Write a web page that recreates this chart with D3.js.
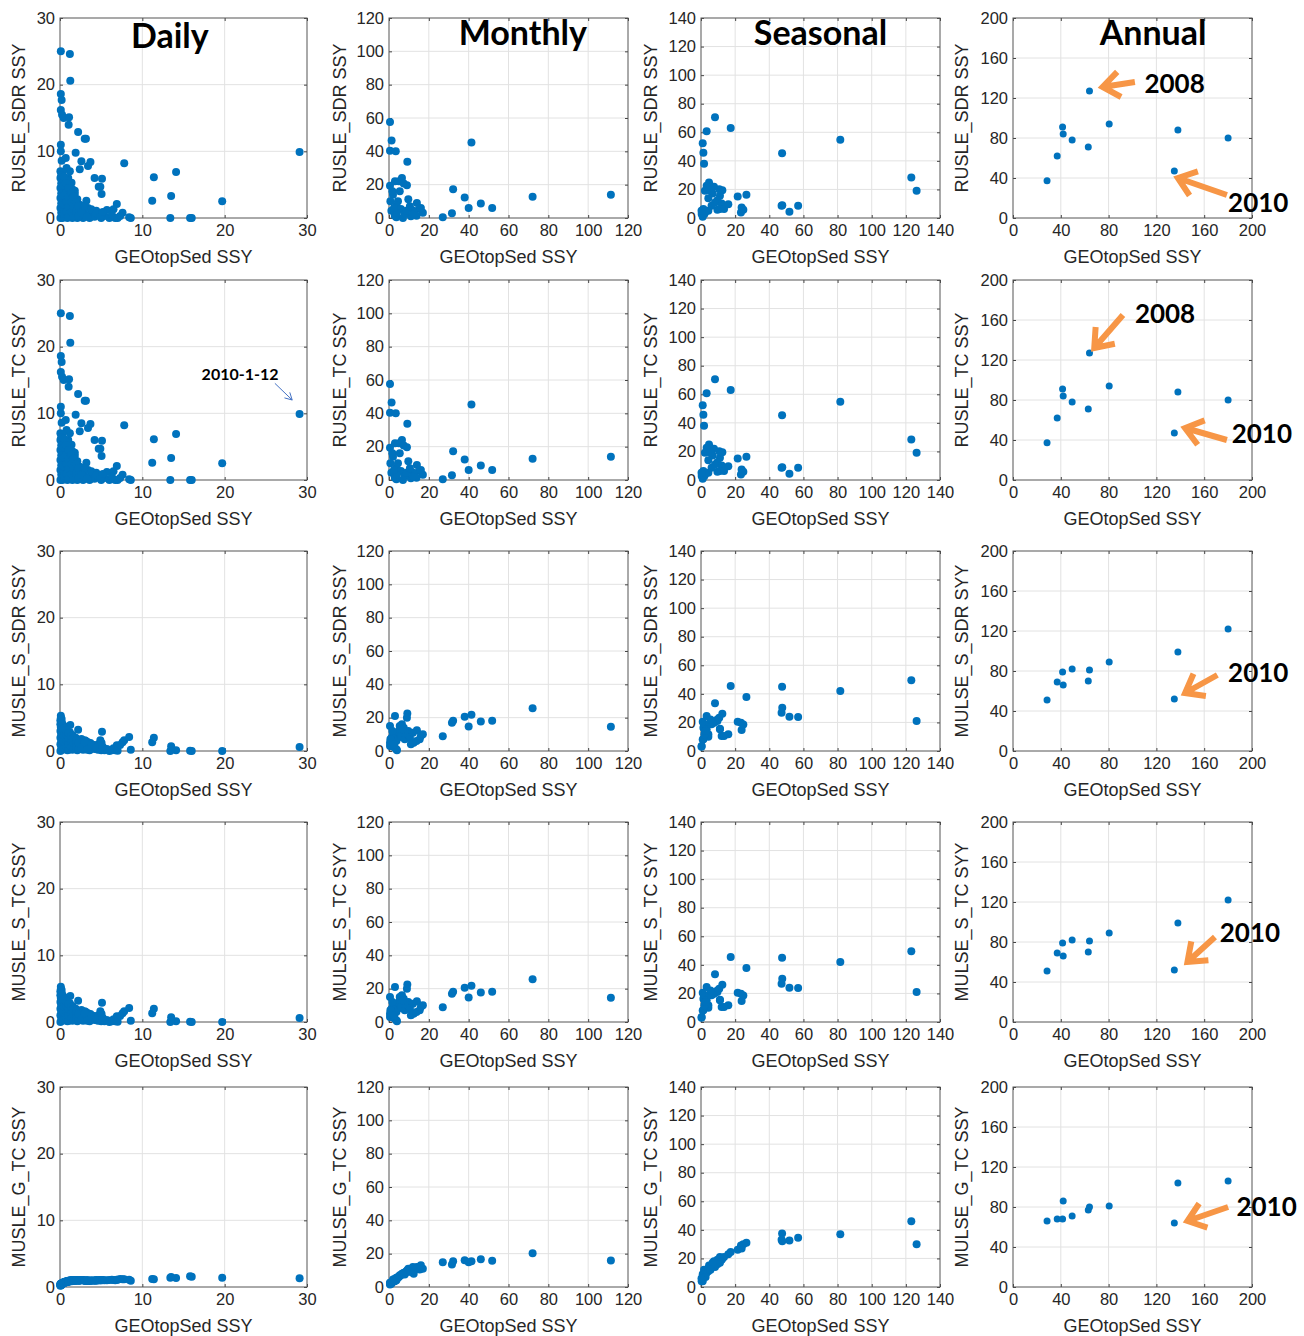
<!DOCTYPE html>
<meta charset="utf-8">
<style>
  body { margin: 0; background: #fff; }
  text { font-family: "Liberation Sans", Arial, sans-serif; }
</style>
<div id="chart"></div>
<script src="https://d3js.org/d3.v7.min.js"></script>
<script>
// ---- data ----
var columns = ["Daily", "Monthly", "Seasonal", "Annual"];
var xLabel = "GEOtopSed SSY";
var yLabels = [
  ["RUSLE_SDR SSY", "RUSLE_SDR SSY", "RUSLE_SDR SSY", "RUSLE_SDR SSY"],
  ["RUSLE_TC SSY", "RUSLE_TC SSY", "RUSLE_TC SSY", "RUSLE_TC SSY"],
  ["MUSLE_S_SDR SSY", "MUSLE_S_SDR SSY", "MUSLE_S_SDR SSY", "MULSE_S_SDR SYY"],
  ["MUSLE_S_TC SSY", "MULSE_S_TC SYY", "MULSE_S_TC SYY", "MULSE_S_TC SYY"],
  ["MUSLE_G_TC SSY", "MULSE_G_TC SSY", "MULSE_G_TC SSY", "MULSE_G_TC SSY"]
];
var xTicks = [[0, 10, 20, 30], [0, 20, 40, 60, 80, 100, 120], [0, 20, 40, 60, 80, 100, 120, 140], [0, 40, 80, 120, 160, 200]];
var yTicks = xTicks;

var dailyX = [0.1,1.2,1.25,0.1,0.2,0.1,0.25,0.45,1.1,1.05,2.2,3.0,3.15,0.1,0.1,1.9,0.2,0.7,2.6,3.7,3.4,2.4,7.8,29.1,11.4,14.1,4.2,5.1,4.7,4.9,5.05,11.2,13.5,19.7,13.4,16.0,15.8,8.6,8.4,6.9,7.6,6.7,3.2,1.0,1.4,1.8,1.2,0.8,5.7,6.5,4.4,
  0.05,0.05,0.05,0.05,0.05,0.05,0.3,0.3,0.3,0.3,0.3,0.3,0.6,0.6,0.6,0.6,0.6,0.9,0.9,0.9,0.9,0.9,1.2,1.2,1.2,1.2,1.5,1.5,1.5,1.5,1.8,1.8,1.8,2.1,2.1,2.1,2.4,2.4,2.8,2.8,3.1,3.4,3.6,3.9,4.2,4.6,5.0,5.4,6.0,6.3,7.0,7.3,
  0.15,0.15,0.15,0.15,0.15,0.45,0.45,0.45,0.45,0.45,0.75,0.75,0.75,0.75,1.05,1.05,1.05,1.05,1.35,1.35,1.35,1.65,1.65,1.65,1.95,1.95,2.25,2.25,2.6,3.0,3.3,3.8,4.4,4.9,5.2];
var dailyRUSLE = [25,24.6,20.6,18.6,17.7,16.2,15.5,15,15.1,14,12.9,11.9,11.9,11,10,9.8,8.6,9,8.5,8.4,7.8,7.3,8.2,9.9,6.1,6.9,6.0,5.9,4.7,4.7,3.6,2.6,3.3,2.5,0,0,0,0,0.1,2.1,0.8,0,2.6,6.0,5.3,4.1,7.0,7.5,1.2,1.3,1.1,
  0,1.5,3,4.5,6,7, 0,1.2,2.5,4,5.5,6.8, 0.3,1.8,3.2,4.6,6, 0,1.4,2.8,4.2,5.6, 0.5,2,3.5,4.8, 0,1.5,3,4.3, 0.6,2.2,3.6, 0,1.4,2.8, 0.6,2.0, 0,1.2, 0.5,1.5,0,0.8,0.2,0.4,0,0.3,0,0.5,0,0.3,
  0.8,2.2,3.7,5.2,6.4, 0.6,2.0,3.4,4.9,6.2, 0.9,2.4,3.8,5.2, 0.2,1.7,3.1,4.5, 0.9,2.4,3.8, 0.3,1.8,3.2, 1.0,2.4, 0.3,1.8, 0.8,1.8,0.2,1.3,0.7,0.3,0.9];
var dailyMUSLE_S = [5.3,2.8,3.9,5.0,4.8,4.5,4.2,3.8,2.5,2.2,3.2,1.6,1.5,4.0,3.6,2.0,3.2,2.6,1.8,1.2,1.3,1.5,1.6,0.6,2.0,0.1,0.9,2.9,1.0,1.6,1.2,1.3,0.7,0,0,0,0.05,0.2,2.1,0.85,1.3,0.1,1.2,2.3,2.0,1.7,2.4,2.7,0.3,0.4,0.5,
  0,1.0,2.0,3.0,4.0,4.6, 0.2,1.0,1.8,2.6,3.2,3.6, 0.3,1.2,2.0,2.8,3.0, 0.1,0.9,1.8,2.4,2.9, 0.4,1.3,2.1,2.6, 0.2,1.0,1.8,2.4, 0.5,1.4,2.0, 0.1,1.0,1.7, 0.4,1.3, 0.2,0.9, 0.6,1.0,0.1,0.5,0.3,0.2,0.1,0.1,0,0.1,0.05,0.9,
  0.6,1.5,2.5,3.4,4.2, 0.4,1.4,2.3,3.0,3.4, 0.7,1.6,2.4,3.1, 0.2,1.1,2.0,2.7, 0.6,1.6,2.3, 0.3,1.2,2.0, 0.7,1.6, 0.3,1.2, 0.5,1.3,0.2,0.9,0.5,0.3,0.6];
var dailyMUSLE_G = [0.5,0.9,0.9,0.4,0.5,0.3,0.6,0.7,0.9,0.85,1.0,0.95,1.0,0.35,0.3,1.0,0.4,0.7,1.05,0.95,0.9,1.0,1.15,1.3,1.15,1.35,0.95,1.0,1.0,1.0,1.05,1.2,1.5,1.4,1.4,1.55,1.6,0.95,1.1,1.1,1.15,1.0,0.9,0.8,0.85,0.95,0.9,0.75,1.0,1.05,0.95,
  0.2,0.3,0.25,0.35,0.4,0.45, 0.5,0.55,0.5,0.6,0.55,0.65, 0.7,0.65,0.75,0.7,0.8, 0.8,0.85,0.8,0.9,0.85, 0.9,0.95,0.9,1.0, 0.95,1.0,0.95,1.05, 1.0,0.95,1.05, 1.05,1.0,1.0, 1.0,0.95, 1.0,1.05, 0.95,1.0,0.9,0.95,1.0,1.0,1.05,1.0,1.05,1.1,1.1,1.2,
  0.25,0.4,0.3,0.45,0.5, 0.55,0.6,0.7,0.65,0.6, 0.75,0.8,0.7,0.85, 0.85,0.9,0.95,0.8, 0.9,1.0,0.95, 1.0,0.95,1.05, 0.95,1.05, 1.0,0.95, 1.05,0.95,1.0,1.0,1.05,1.0,1.05];

var monthlyX = [111.4,72.1,51.8,46.1,41.4,40.0,38.0,32.2,31.6,27.0, 0.5,1.3,0.5,3.4,9.2, 0.5,3.0,5.0,6.5,7.4,9.0,9.7,14.0,15.4,17.0, 11.0,4.5,2.0,3.7,6.0,1.2,2.9,7.9,12.4,0.7, 1.7,5.4,8.7,13.8,3.7,7.0,10.5,16.0,12.0,4.0,2.5];
var monthlyRUSLE = [13.9,12.7,6,8.7,45.3,6,12.3,17.3,2.8,0.4, 57.6,46.5,40.3,40.1,33.8, 19.3,22,22,24,20.7,19.7,11.3,9,5.4,3.2, 1,10,14,7.4,5.4,4.4,1.4,2.4,4.4,10, 16,16,4.4,1.4,0.4,0,7,6,2,3,6];
var monthlyMUSLE_S = [14.5,25.7,18.1,17.7,21.7,14.7,20.5,18.1,17,8.8, 5,8,3,10,22.5, 15,21,12,16,14,20,12,12.5,7,10, 4,8,11,6,9,3,2,7,5,7, 12,15,10.5,6,1,13,8,9,11,0.5,4];
var monthlyMUSLE_G = [15.9,20.2,15.7,16.7,15.5,14.9,16,15.5,13.5,14.9, 2,3,1.5,4,10, 2.5,5,6,8,8.5,9,11,12,10.5,11, 9,6,4.5,5.5,7,2,3.5,7.5,8,2.5, 3,7,9.5,11.5,4,8,10,13,12,5,3.5];

var seasonalX = [123.2,126.3,81.6,47.5,47.6,47.2,51.8,56.9,17.4,26.6, 8.2,21.5,23.4,23.8,24.8,16.0,12.1,11.1,12.5,10.7, 9.6,3.3,1.0,1.4,1.8, 4.7,3.3,7.6,2.3,4.3,11.1,9.6,13.5,6.2,4.3, 1.4,0.4,1.0,2.0,2.7,8.2,6.8,5.5,0.3];
var seasonalRUSLE = [28.3,19,54.7,45.4,9,8.5,4.4,8.6,63,16.2, 70.5,15,3.9,7.4,5.8,9.7,10.2,15.5,19.5,20.2, 12.5,60.7,52.4,45.7,38, 24.8,22.5,21.8,19,13.9,6.3,5.8,6.3,8.6,5.1, 6.3,2.8,0.9,2.8,4.6,10.9,17.2,19,5];
var seasonalMUSLE_S = [49.5,21,42,45,30.3,26.8,24,23.8,45.5,37.8, 33.4,20.5,19.8,14.7,18.5,11.7,10.5,15.2,26.1,23.3, 21,24.5,20.5,16.3,18.7, 18.7,15.2,19.8,13,11.7,15.5,22,10.5,18.7,10, 8.2,3.5,8,11.7,14,21,20,22,3];
var seasonalMUSLE_G = [46,30,37,37.5,32,33,32.5,34.5,24.5,31, 15,26,29,27,30,23,19,21,20,18, 19,12,9,7,12, 15,10,18,11,11,17,16,21,14,13, 8,4,4,9,7,14,17,12,6];

var annualX = [28.5,37,41.5,42,49.5,63,64,80.5,135,138,180];
var annualRUSLE = [37.2,62,91,84,78,71,127,94,47,88,80];
var annualMUSLE_S = [51,69,79,66,82,70,81,89,52,99,122];
var annualMUSLE_G = [66,68,68,86,71,77,80,81,64,104,106];

// the TC variants plot on top of the SDR ones in the picture
var columnX = [dailyX, monthlyX, seasonalX, annualX];
var rowY = [
  [dailyRUSLE, monthlyRUSLE, seasonalRUSLE, annualRUSLE],
  [dailyRUSLE, monthlyRUSLE, seasonalRUSLE, annualRUSLE],
  [dailyMUSLE_S, monthlyMUSLE_S, seasonalMUSLE_S, annualMUSLE_S],
  [dailyMUSLE_S, monthlyMUSLE_S, seasonalMUSLE_S, annualMUSLE_S],
  [dailyMUSLE_G, monthlyMUSLE_G, seasonalMUSLE_G, annualMUSLE_G]
];

// annotations in data units of the annual panels
var yearNotes = [
  {row: 0, label: "2008", tail: [102, 136], tip: [75, 131], at: [110, 125]},
  {row: 0, label: "2010", tail: [179, 23], tip: [138, 40], at: [180, 6]},
  {row: 1, label: "2008", tail: [92, 165], tip: [68, 132], at: [102, 157]},
  {row: 1, label: "2010", tail: [179, 40], tip: [144, 52], at: [183, 37]},
  {row: 2, label: "2010", tail: [171, 76], tip: [144, 58], at: [180, 69]},
  {row: 3, label: "2010", tail: [169, 85], tip: [146, 60], at: [173, 80]},
  {row: 4, label: "2010", tail: [180, 80], tip: [146, 66], at: [187, 71]}
];
var dayNote = {row: 1, label: "2010-1-12", at: [17.2, 15], tail: [26.1, 14.5], tip: [28.2, 12]};

// ---- layout ----
var panelLeft = [60, 389, 701, 1013], panelWidth = [247, 239, 239, 239];
var panelTop = [18, 280, 551, 822, 1087], panelHeight = 200;
var titlePos = [[0.445, 48], [0.56, 45], [0.50, 45], [0.586, 45]];
var yLabelGap = [35, 43, 44, 45];

var svg = d3.select("#chart").append("svg")
  .attr("width", 1304).attr("height", 1336)
  .style("background", "#fff");

function arrowPath(p1, p2, len, ang) {
  var a = Math.atan2(p2[1] - p1[1], p2[0] - p1[0]);
  var h1 = [p2[0] - len * Math.cos(a - ang), p2[1] - len * Math.sin(a - ang)];
  var h2 = [p2[0] - len * Math.cos(a + ang), p2[1] - len * Math.sin(a + ang)];
  return "M" + p1 + "L" + p2 + "M" + h1 + "L" + p2 + "L" + h2;
}

panelTop.forEach(function(top, r) {
  columns.forEach(function(col, c) {
    var w = panelWidth[c], h = panelHeight;
    var xMax = xTicks[c][xTicks[c].length - 1];
    var x = d3.scaleLinear().domain([0, xMax]).range([0, w]);
    var y = d3.scaleLinear().domain([0, xMax]).range([h, 0]);
    var g = svg.append("g").attr("transform", "translate(" + panelLeft[c] + "," + top + ")");

    // grid
    g.append("g").selectAll("line").data(xTicks[c].slice(1, -1)).enter().append("line")
      .attr("x1", function(d) { return x(d); }).attr("x2", function(d) { return x(d); })
      .attr("y1", 0).attr("y2", h).attr("stroke", "#e2e2e2");
    g.append("g").selectAll("line").data(yTicks[c].slice(1, -1)).enter().append("line")
      .attr("y1", function(d) { return y(d); }).attr("y2", function(d) { return y(d); })
      .attr("x1", 0).attr("x2", w).attr("stroke", "#e2e2e2");

    // axes
    var ax = [
      g.append("g").attr("transform", "translate(0," + h + ")")
        .call(d3.axisBottom(x).tickValues(xTicks[c]).tickSize(-3).tickPadding(6)),
      g.append("g")
        .call(d3.axisLeft(y).tickValues(yTicks[c]).tickSize(-3).tickPadding(5)),
      g.append("g").call(d3.axisTop(x).tickValues(xTicks[c]).tickSize(-3).tickFormat("")),
      g.append("g").attr("transform", "translate(" + w + ",0)")
        .call(d3.axisRight(y).tickValues(yTicks[c]).tickSize(-3).tickFormat(""))
    ];
    ax.forEach(function(a) {
      a.select(".domain").remove();
      a.selectAll(".tick line").attr("stroke", "#444");
      a.selectAll(".tick text").attr("fill", "#262626")
        .style("font-family", "'Liberation Sans', Arial, sans-serif").style("font-size", "16.5px");
    });
    g.append("rect").attr("width", w).attr("height", h)
      .attr("fill", "none").attr("stroke", "#555").attr("stroke-width", 1);

    // points
    var xs = columnX[c], ys = rowY[r][c];
    g.append("g").selectAll("circle").data(d3.range(xs.length)).enter().append("circle")
      .attr("cx", function(i) { return x(xs[i]); })
      .attr("cy", function(i) { return y(ys[i]); })
      .attr("r", c === 3 ? 3.5 : 4)
      .attr("fill", "#0072BD");

    // labels
    g.append("text").attr("x", w / 2).attr("y", h + 45)
      .attr("text-anchor", "middle").attr("fill", "#262626").style("font-size", "18px")
      .text(xLabel);
    g.append("text").attr("transform", "translate(" + (-yLabelGap[c]) + "," + (h / 2) + ") rotate(-90)")
      .attr("text-anchor", "middle").attr("fill", "#262626").style("font-size", "18px")
      .text(yLabels[r][c]);

    if (r === 0) {
      g.append("text").attr("x", w * titlePos[c][0]).attr("y", titlePos[c][1] - top)
        .attr("text-anchor", "middle")
        .style("font-family", "Lato, 'Open Sans', sans-serif").style("font-weight", "bold").style("font-size", "34px")
        .attr("fill", "#000").text(col);
    }

    if (c === 3) {
      yearNotes.filter(function(n) { return n.row === r; }).forEach(function(n) {
        g.append("path")
          .attr("d", arrowPath([x(n.tail[0]), y(n.tail[1])], [x(n.tip[0]), y(n.tip[1])], 21, 0.65))
          .attr("fill", "none").attr("stroke", "#F79646").attr("stroke-width", 6)
          .attr("stroke-linejoin", "miter");
        g.append("text").attr("x", x(n.at[0])).attr("y", y(n.at[1]))
          .style("font-family", "Lato, 'Open Sans', sans-serif").style("font-weight", "bold").style("font-size", "26px")
          .attr("fill", "#000").text(n.label);
      });
    }
    if (c === 0 && r === dayNote.row) {
      g.append("path")
        .attr("d", arrowPath([x(dayNote.tail[0]), y(dayNote.tail[1])], [x(dayNote.tip[0]), y(dayNote.tip[1])], 8, 0.5))
        .attr("fill", "none").attr("stroke", "#4472C4").attr("stroke-width", 1);
      g.append("text").attr("x", x(dayNote.at[0])).attr("y", y(dayNote.at[1]))
        .style("font-family", "Lato, 'Open Sans', sans-serif").style("font-weight", "bold").style("font-size", "16px")
        .attr("fill", "#000").text(dayNote.label);
    }
  });
});
</script>
